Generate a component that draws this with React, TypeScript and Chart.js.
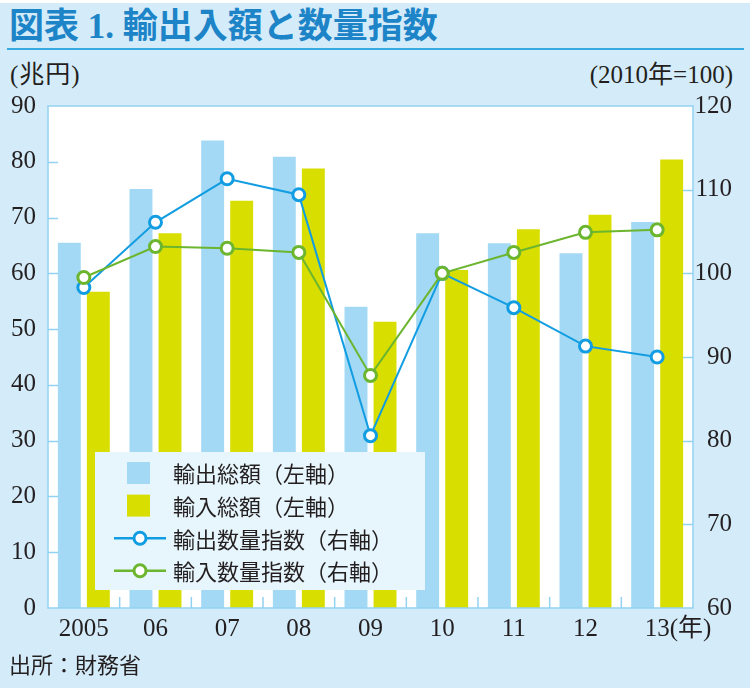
import React, { useEffect, useRef } from "react";
import { Chart, registerables } from "chart.js";

Chart.register(...registerables);

const years = ["2005", "06", "07", "08", "09", "10", "11", "12", "13"];
const exportValue = [65.5, 75.1, 83.8, 80.9, 54.0, 67.2, 65.4, 63.6, 69.2];
const importValue = [56.7, 67.2, 73.0, 78.8, 51.3, 60.6, 67.9, 70.5, 80.4];
const exportIndex = [98.3, 106.1, 111.3, 109.4, 80.6, 100.0, 95.9, 91.3, 90.0];
const importIndex = [99.5, 103.2, 103.0, 102.5, 87.8, 100.0, 102.5, 104.9, 105.2];
const leftTicks = [0, 10, 20, 30, 40, 50, 60, 70, 80, 90];
const rightTicks = [60, 70, 80, 90, 100, 110, 120];

const legendLabels = [
  "輸出総額（左軸）",
  "輸入総額（左軸）",
  "輸出数量指数（右軸）",
  "輸入数量指数（右軸）",
];

const C_EXPORT_BAR = "#a3d9f5";
const C_IMPORT_BAR = "#d8df00";
const C_EXPORT_LINE = "#129de2";
const C_IMPORT_LINE = "#6cb52e";
const C_AXIS = "#92d2f1";
const C_BG = "#d4ecf9";
const C_TEXT = "#231f20";
const TICK_FONT = "'Liberation Serif', 'Noto Sans CJK JP', serif";

const framePlugin = {
  id: "frame",
  beforeDatasetsDraw(chart: any) {
    const { ctx, chartArea: a } = chart;
    ctx.save();
    ctx.fillStyle = "#ffffff";
    ctx.fillRect(a.left, a.top, a.right - a.left, a.bottom - a.top);
    ctx.restore();
  },
  afterDatasetsDraw(chart: any) {
    const { ctx, chartArea: a } = chart;
    const y = chart.scales.y;
    const y1 = chart.scales.y1;
    const x = chart.scales.x;
    ctx.save();
    ctx.strokeStyle = C_AXIS;
    ctx.lineWidth = 1.5;
    leftTicks.slice(1, -1).forEach((v) => {
      const py = Math.round(y.getPixelForValue(v)) + 0.5;
      ctx.beginPath();
      ctx.moveTo(a.left, py);
      ctx.lineTo(a.left + 10, py);
      ctx.stroke();
    });
    rightTicks.slice(1, -1).forEach((v) => {
      const py = Math.round(y1.getPixelForValue(v)) + 0.5;
      ctx.beginPath();
      ctx.moveTo(a.right - 10, py);
      ctx.lineTo(a.right, py);
      ctx.stroke();
    });
    for (let i = 1; i < years.length; i++) {
      const px = (x.getPixelForValue(i - 1) + x.getPixelForValue(i)) / 2;
      ctx.beginPath();
      ctx.moveTo(px, a.bottom);
      ctx.lineTo(px, a.bottom - 11);
      ctx.stroke();
    }
    ctx.strokeRect(a.left, a.top, a.right - a.left, a.bottom - a.top);

    ctx.font = `25px ${TICK_FONT}`;
    ctx.fillStyle = C_TEXT;
    ctx.textBaseline = "middle";
    ctx.textAlign = "left";
    const lastX = x.getPixelForValue(years.length - 1);
    const w = ctx.measureText(years[years.length - 1]).width;
    ctx.fillText("(年)", lastX + w / 2, x.top + 6 + 15);

    const lx = 95, ly = 452, lw = 330, lh = 138;
    ctx.fillStyle = "#e7f5fc";
    ctx.fillRect(lx, ly, lw, lh);
    ctx.font = `22px 'Noto Sans CJK JP', sans-serif`;
    const ds = chart.data.datasets;
    legendLabels.forEach((label: string, i: number) => {
      const cy = 473 + i * 32.6;
      const d = ds[i];
      if (d.type === "bar") {
        ctx.fillStyle = d.backgroundColor;
        ctx.fillRect(127, cy - 11, 23, 22);
      } else {
        ctx.strokeStyle = d.borderColor;
        ctx.lineWidth = 2.5;
        ctx.beginPath();
        ctx.moveTo(114, cy);
        ctx.lineTo(166, cy);
        ctx.stroke();
        ctx.beginPath();
        ctx.arc(140, cy, 6, 0, Math.PI * 2);
        ctx.fillStyle = "#ffffff";
        ctx.fill();
        ctx.lineWidth = 3;
        ctx.stroke();
      }
      ctx.fillStyle = C_TEXT;
      ctx.textBaseline = "middle";
      ctx.textAlign = "left";
      ctx.fillText(label, 173, cy + 1);
    });
    ctx.restore();
  },
};

export default function App() {
  const ref = useRef<HTMLCanvasElement>(null);

  useEffect(() => {
    if (!ref.current) return;
    const chart = new Chart(ref.current, {
      type: "bar",
      data: {
        labels: years,
        datasets: [
          {
            type: "bar",
            label: legendLabels[0],
            data: exportValue,
            backgroundColor: C_EXPORT_BAR,
            yAxisID: "y",
            order: 3,
            categoryPercentage: 0.81,
            barPercentage: 0.79,
          },
          {
            type: "bar",
            label: legendLabels[1],
            data: importValue,
            backgroundColor: C_IMPORT_BAR,
            yAxisID: "y",
            order: 3,
            categoryPercentage: 0.81,
            barPercentage: 0.79,
          },
          {
            type: "line",
            label: legendLabels[2],
            data: exportIndex,
            borderColor: C_EXPORT_LINE,
            backgroundColor: "#ffffff",
            borderWidth: 2,
            pointRadius: 6,
            pointBorderWidth: 3,
            pointBackgroundColor: "#ffffff",
            pointBorderColor: C_EXPORT_LINE,
            yAxisID: "y1",
            order: 2,
            tension: 0,
          } as any,
          {
            type: "line",
            label: legendLabels[3],
            data: importIndex,
            borderColor: C_IMPORT_LINE,
            backgroundColor: "#ffffff",
            borderWidth: 2,
            pointRadius: 6,
            pointBorderWidth: 3,
            pointBackgroundColor: "#ffffff",
            pointBorderColor: C_IMPORT_LINE,
            yAxisID: "y1",
            order: 1,
            tension: 0,
          } as any,
        ],
      },
      options: {
        animation: false,
        responsive: false,
        maintainAspectRatio: false,
        layout: { padding: { top: 106, right: 18, left: 0, bottom: 0 } },
        plugins: {
          legend: { display: false },
          tooltip: { enabled: false },
          title: { display: false },
        },
        scales: {
          x: {
            grid: { display: false, drawTicks: false },
            border: { display: false },
            ticks: {
              padding: 6,
              color: C_TEXT,
              font: { family: TICK_FONT, size: 25 },
              maxRotation: 0,
              autoSkip: false,
            },
            afterFit: (s: any) => {
              s.height = 80;
            },
          },
          y: {
            position: "left",
            min: 0,
            max: 90,
            afterBuildTicks: (s: any) => {
              s.ticks = leftTicks.map((v) => ({ value: v }));
            },
            grid: { display: false, drawTicks: false },
            border: { display: false },
            ticks: {
              padding: 12,
              color: C_TEXT,
              font: { family: TICK_FONT, size: 25 },
            },
            afterFit: (s: any) => {
              s.width = 48;
            },
          },
          y1: {
            position: "right",
            min: 60,
            max: 120,
            afterBuildTicks: (s: any) => {
              s.ticks = rightTicks.map((v) => ({ value: v }));
            },
            grid: { display: false, drawTicks: false },
            border: { display: false },
            ticks: {
              padding: 2,
              crossAlign: "far",
              color: C_TEXT,
              font: { family: TICK_FONT, size: 25 },
            },
            afterFit: (s: any) => {
              s.width = 39;
            },
          },
        },
      } as any,
      plugins: [framePlugin],
    });
    return () => chart.destroy();
  }, []);

  const serifCJK = "'Liberation Serif', 'Noto Sans CJK JP', serif";
  return (
    <div
      style={{
        position: "absolute",
        left: 0,
        top: 0,
        width: 750,
        height: 688,
        background: C_BG,
        overflow: "hidden",
      }}
    >
      <div style={{ position: "absolute", left: 0, top: 0, width: 750, height: 3, background: "#ffffff" }} />
      <div
        style={{
          position: "absolute",
          left: 9,
          top: 9,
          fontFamily: serifCJK,
          fontWeight: 700,
          fontSize: 35,
          lineHeight: "35px",
          color: "#1d84c8",
          whiteSpace: "nowrap",
        }}
      >
        図表 1. 輸出入額と数量指数
      </div>
      <div style={{ position: "absolute", left: 7, top: 48, width: 737, height: 2, background: "#36a9e1" }} />
      <div
        style={{
          position: "absolute",
          left: 10,
          top: 62,
          fontFamily: serifCJK,
          fontSize: 25,
          lineHeight: "25px",
          color: C_TEXT,
          whiteSpace: "nowrap",
          letterSpacing: 1,
        }}
      >
        (兆円)
      </div>
      <div
        style={{
          position: "absolute",
          right: 17,
          top: 62,
          fontFamily: serifCJK,
          fontSize: 25,
          lineHeight: "25px",
          color: C_TEXT,
          whiteSpace: "nowrap",
        }}
      >
        (2010年=100)
      </div>
      <canvas ref={ref} width={750} height={688} style={{ position: "absolute", left: 0, top: 0, width: 750, height: 688 }} />
      <div
        style={{
          position: "absolute",
          left: 9,
          top: 651,
          fontFamily: "'Noto Sans CJK JP', sans-serif",
          fontSize: 22,
          lineHeight: "24px",
          color: C_TEXT,
          whiteSpace: "nowrap",
        }}
      >
        出所：財務省
      </div>
    </div>
  );
}
